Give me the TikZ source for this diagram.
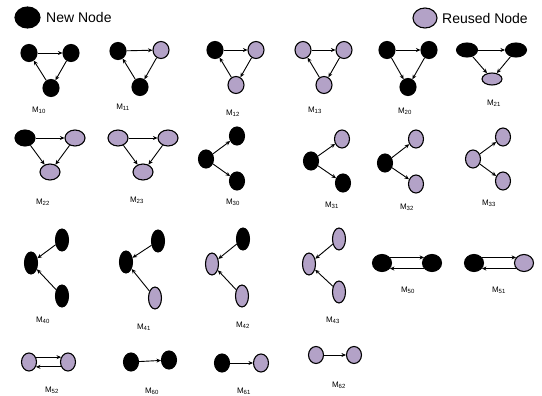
\documentclass[tikz,border=0pt]{standalone}
\usepackage{fontspec}
\setmainfont{Liberation Sans}
\usetikzlibrary{shapes.geometric,arrows.meta}
\definecolor{lav}{RGB}{179,162,199}
\tikzset{
  nd/.style={ellipse,draw=black,line width=1.1pt,inner sep=0pt},
  nn/.style={nd,fill=black},
  rn/.style={nd,fill=lav},
  sa/.style={minimum width=16pt,minimum height=17pt},
  sb/.style={minimum width=21pt,minimum height=14pt},
  sc/.style={minimum width=20pt,minimum height=16pt},
  sd/.style={minimum width=15pt,minimum height=18pt},
  se/.style={minimum width=13pt,minimum height=22pt},
  sf/.style={minimum width=19pt,minimum height=17pt},
  sg/.style={minimum width=15pt,minimum height=17pt},
  arr/.style={draw,line width=0.9pt,-{Stealth[length=4.5pt,width=4pt]}},
  lbl/.style={font=\fontsize{8}{9}\selectfont,inner sep=0pt},
  leg/.style={font=\fontsize{14}{16}\selectfont,anchor=west,inner sep=0pt}
}
\newcommand{\lab}[1]{M\textsubscript{#1}}
\begin{document}
\begin{tikzpicture}[x=1pt,y=-1pt]
\useasboundingbox (0,0) rectangle (542,396);
% legend
\node[nn,minimum width=25pt,minimum height=21pt] (lgn) at (27.5,17.5) {};
\node[leg] (lgnt) at (46,17) {New Node};
\node[rn,minimum width=24pt,minimum height=20pt] (lgr) at (425,18) {};
\node[leg] (lgrt) at (442,18) {Reused Node};
% M10
\node[nn,sa] (a10) at (29,53) {};
\node[nn,sa] (b10) at (71,53) {};
\node[nn,sa] (c10) at (51,88) {};
\draw[arr] (a10) -- (b10); \draw[arr] (b10) -- (c10); \draw[arr] (c10) -- (a10);
\node[lbl] (l10) at (39,110) {\lab{10}};
% M11
\node[nn,sa] (a11) at (118,51) {};
\node[rn,sa] (b11) at (161,50) {};
\node[nn,sa] (c11) at (140,87) {};
\draw[arr] (a11) -- (b11); \draw[arr] (b11) -- (c11); \draw[arr] (c11) -- (a11);
\node[lbl] (l11) at (123,107) {\lab{11}};
% M12
\node[nn,sa] (a12) at (215,50) {};
\node[rn,sa] (b12) at (256,50) {};
\node[rn,sa] (c12) at (236,85) {};
\draw[arr] (a12) -- (b12); \draw[arr] (b12) -- (c12); \draw[arr] (c12) -- (a12);
\node[lbl] (l12) at (233,113) {\lab{12}};
% M13
\node[rn,sa] (a13) at (303,50) {};
\node[rn,sa] (b13) at (344,50) {};
\node[rn,sa] (c13) at (324,85) {};
\draw[arr] (a13) -- (b13); \draw[arr] (b13) -- (c13); \draw[arr] (c13) -- (a13);
\node[lbl] (l13) at (315,110) {\lab{13}};
% M20
\node[nn,sa] (a20) at (387,50) {};
\node[nn,sa] (b20) at (429,50) {};
\node[nn,sa] (c20) at (408,87) {};
\draw[arr] (a20) -- (b20); \draw[arr] (a20) -- (c20); \draw[arr] (b20) -- (c20);
\node[lbl] (l20) at (405,111) {\lab{20}};
% M21
\node[nn,sb] (a21) at (467,50) {};
\node[nn,sb] (b21) at (516,50) {};
\node[rn,minimum width=20pt,minimum height=12pt] (c21) at (492,79) {};
\draw[arr] (a21) -- (b21); \draw[arr] (a21) -- (c21); \draw[arr] (b21) -- (c21);
\node[lbl] (l21) at (494,103) {\lab{21}};
% M22
\node[nn,sc] (a22) at (25,138) {};
\node[rn,sc] (b22) at (75,138) {};
\node[rn,sc] (c22) at (50,172) {};
\draw[arr] (a22) -- (b22); \draw[arr] (a22) -- (c22); \draw[arr] (b22) -- (c22);
\node[lbl] (l22) at (43,202) {\lab{22}};
% M23
\node[rn,sc] (a23) at (118,138) {};
\node[rn,sc] (b23) at (168,138) {};
\node[rn,sc] (c23) at (143,172) {};
\draw[arr] (a23) -- (b23); \draw[arr] (a23) -- (c23); \draw[arr] (b23) -- (c23);
\node[lbl] (l23) at (137,200) {\lab{23}};
% M30
\node[nn,sd] (a30) at (206,159) {};
\node[nn,sd] (b30) at (237,136) {};
\node[nn,sd] (c30) at (237,181) {};
\draw[arr] (a30) -- (b30); \draw[arr] (a30) -- (c30);
\node[lbl] (l30) at (233,202) {\lab{30}};
% M31
\node[nn,sd] (a31) at (311,161) {};
\node[rn,sd] (b31) at (342,139) {};
\node[nn,sd] (c31) at (343,183) {};
\draw[arr] (a31) -- (b31); \draw[arr] (a31) -- (c31);
\node[lbl] (l31) at (332,205) {\lab{31}};
% M32
\node[nn,sd] (a32) at (385,163) {};
\node[rn,sd] (b32) at (416,139) {};
\node[rn,sd] (c32) at (416,184) {};
\draw[arr] (a32) -- (b32); \draw[arr] (a32) -- (c32);
\node[lbl] (l32) at (407,207) {\lab{32}};
% M33
\node[rn,sd] (a33) at (473,159) {};
\node[rn,sd] (b33) at (503,137) {};
\node[rn,sd] (c33) at (503,181) {};
\draw[arr] (a33) -- (b33); \draw[arr] (a33) -- (c33);
\node[lbl] (l33) at (489,203) {\lab{33}};
% M40
\node[nn,se] (a40) at (31,263) {};
\node[nn,se] (b40) at (62,240) {};
\node[nn,se] (c40) at (62,296) {};
\draw[arr] (b40) -- (a40); \draw[arr] (c40) -- (a40);
\node[lbl] (l40) at (43,320) {\lab{40}};
% M41
\node[nn,se] (a41) at (126,262) {};
\node[nn,se] (b41) at (158,241) {};
\node[rn,se] (c41) at (155,298) {};
\draw[arr] (b41) -- (a41); \draw[arr] (c41) -- (a41);
\node[lbl] (l41) at (144,327) {\lab{41}};
% M42
\node[rn,se] (a42) at (212,264) {};
\node[nn,se] (b42) at (243,239) {};
\node[rn,se] (c42) at (242,296) {};
\draw[arr] (b42) -- (a42); \draw[arr] (c42) -- (a42);
\node[lbl] (l42) at (243,325) {\lab{42}};
% M43
\node[rn,se] (a43) at (309,264) {};
\node[rn,se] (b43) at (339,239) {};
\node[rn,se] (c43) at (339,292) {};
\draw[arr] (b43) -- (a43); \draw[arr] (c43) -- (a43);
\node[lbl] (l43) at (333,320) {\lab{43}};
% M50
\node[nn,sf] (a50) at (382,263) {};
\node[nn,sf] (b50) at (432,263) {};
\draw[arr] (a50.35) -- (b50.145); \draw[arr] (b50.-145) -- (a50.-35);
\node[lbl] (l50) at (408,290) {\lab{50}};
% M51
\node[nn,sf] (a51) at (474,263) {};
\node[rn,sf] (b51) at (524,263) {};
\draw[arr] (a51.35) -- (b51.145); \draw[arr] (b51.-145) -- (a51.-35);
\node[lbl] (l51) at (499,290) {\lab{51}};
% M52
\node[rn,sd] (a52) at (29,362) {};
\node[rn,sd] (b52) at (68,362) {};
\draw[arr] (a52.35) -- (b52.145); \draw[arr] (b52.-145) -- (a52.-35);
\node[lbl] (l52) at (52,390) {\lab{52}};
% M60
\node[nn,sd] (a60) at (131,362) {};
\node[nn,sd] (b60) at (169,360) {};
\draw[arr] (a60) -- (b60);
\node[lbl] (l60) at (152,391) {\lab{60}};
% M61
\node[nn,sd] (a61) at (222,363) {};
\node[rn,sd] (b61) at (261,363) {};
\draw[arr] (a61) -- (b61);
\node[lbl] (l61) at (244,391) {\lab{61}};
% M62
\node[rn,sg] (a62) at (316,355) {};
\node[rn,sg] (b62) at (354,355) {};
\draw[arr] (a62) -- (b62);
\node[lbl] (l62) at (339,385) {\lab{62}};
\end{tikzpicture}
\end{document}
